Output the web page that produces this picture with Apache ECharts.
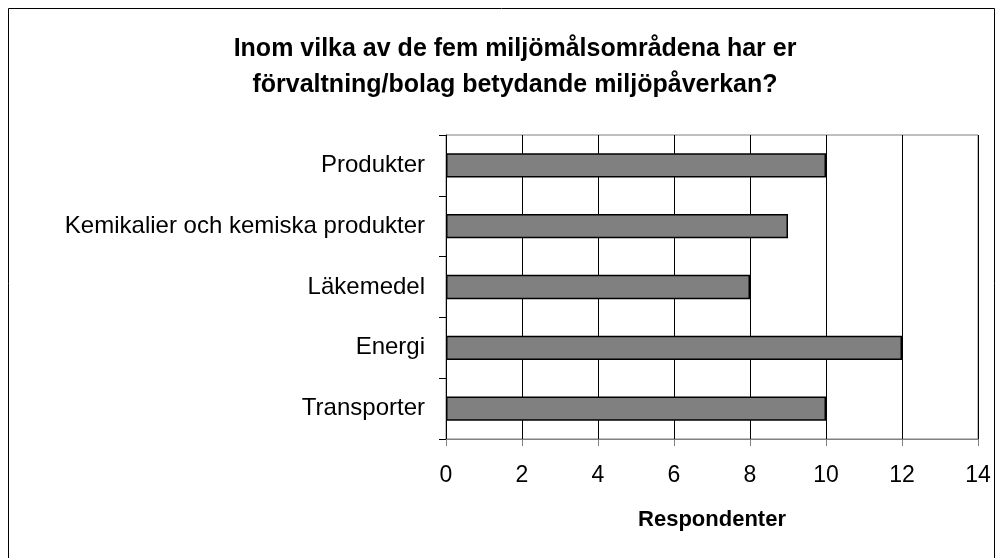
<!DOCTYPE html>
<html>
<head>
<meta charset="utf-8">
<script src="https://cdn.jsdelivr.net/npm/echarts@6/dist/echarts.min.js"></script>
<style>
  html, body { margin: 0; padding: 0; background: #fff; }
  #chart { width: 1003px; height: 558px; }
</style>
</head>
<body>
<div id="chart"></div>
<script>
const categories = ['Produkter', 'Kemikalier och kemiska produkter', 'Läkemedel', 'Energi', 'Transporter']
const values = [10, 9, 8, 12, 10]
const xTicks = { min: 0, max: 14, interval: 2 }

const chart = echarts.init(document.getElementById('chart'))
chart.setOption({
  backgroundColor: '#ffffff',
  animation: false,
  textStyle: { fontFamily: 'Liberation Sans, Arial, sans-serif' },
  title: {
    text: 'Inom vilka av de fem miljömålsområdena har er\nförvaltning/bolag betydande miljöpåverkan?',
    left: 510,
    top: 26,
    textAlign: 'center',
    textStyle: {
      fontSize: 25,
      fontWeight: 'bold',
      color: '#000',
      lineHeight: 36,
      fontFamily: 'Liberation Sans, Arial, sans-serif'
    }
  },
  // rahmen runt hela diagrammet
  graphic: [{
    type: 'rect',
    shape: { x: 8.5, y: 8.5, width: 986, height: 600 },
    style: { fill: 'none', stroke: '#000', lineWidth: 1 },
    silent: true
  }],
  grid: {
    left: 446,
    right: 25,
    top: 135,
    bottom: 119,
    show: true,
    borderColor: '#808080',
    borderWidth: 1
  },
  xAxis: {
    type: 'value',
    min: xTicks.min,
    max: xTicks.max,
    interval: xTicks.interval,
    name: 'Respondenter',
    nameLocation: 'middle',
    nameGap: 70,
    nameTextStyle: { fontSize: 22, fontWeight: 'bold', color: '#000' },
    axisLine: { show: true, lineStyle: { color: '#808080', width: 1 } },
    axisTick: { show: true, length: 7, lineStyle: { color: '#808080' } },
    axisLabel: { fontSize: 23, color: '#000', margin: 25 },
    splitLine: { show: true, lineStyle: { color: '#000', width: 1 } }
  },
  yAxis: {
    type: 'category',
    data: categories,
    inverse: true,
    axisLine: { show: true, lineStyle: { color: '#000', width: 1 } },
    axisTick: { show: true, length: 7, alignWithLabel: false, lineStyle: { color: '#000' } },
    axisLabel: { fontSize: 24, color: '#000', margin: 21 },
    splitLine: { show: false }
  },
  series: [{
    type: 'bar',
    data: values,
    barCategoryGap: '60%',
    itemStyle: { color: '#808080', borderColor: '#000', borderWidth: 1.5 }
  }]
})
</script>
</body>
</html>
